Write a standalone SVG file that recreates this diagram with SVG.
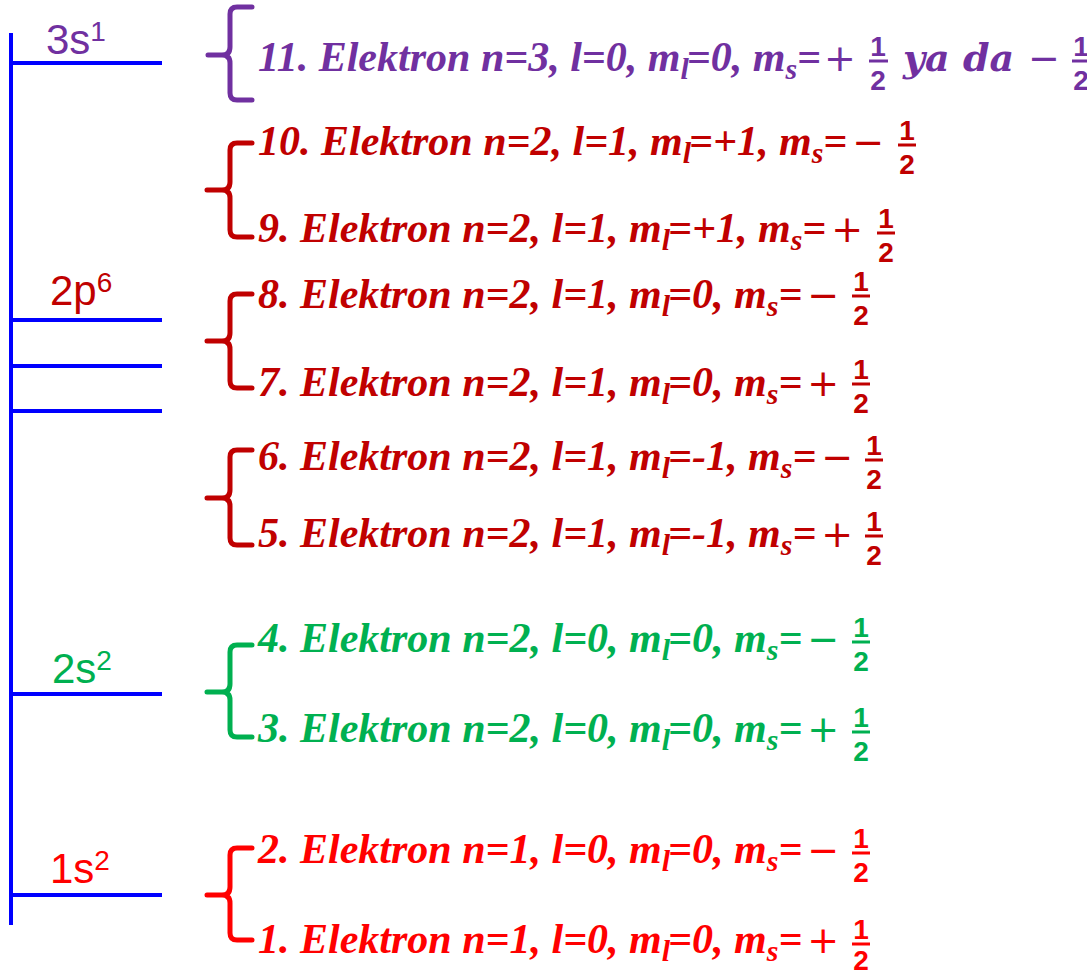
<svg xmlns="http://www.w3.org/2000/svg" width="1087" height="976" viewBox="0 0 1087 976">
<style>
.ax{stroke:#0000FF;stroke-width:4;fill:none}
.br{fill:none;stroke-width:5;stroke-linecap:round;stroke-linejoin:round}
.t{font-family:"Liberation Serif","Times New Roman",serif;font-weight:bold;font-style:italic;font-size:42px}
.sub{font-size:30px}
.op{font-family:"DejaVu Sans",sans-serif;font-style:normal;font-weight:normal;font-size:38px}
.fr{font-family:"Liberation Sans",Arial,sans-serif;font-weight:bold;font-size:28px;text-anchor:middle}
.bar{stroke-width:3}
.lvl{font-family:"Liberation Sans",Arial,sans-serif;font-size:42px}
.sup{font-size:28px}
.math{font-family:"DejaVu Serif",serif;font-weight:bold;font-style:italic;font-size:38px}
</style>

<g id="axis"><line class="ax" x1="11" y1="33" x2="11" y2="925"/></g>

<g id="level-3s">
<line class="ax" x1="11" y1="63" x2="162" y2="63"/>
<text class="lvl" x="46" y="54" fill="#7030A0">3s<tspan class="sup" dy="-13">1</tspan></text>
</g>
<g id="level-2p">
<line class="ax" x1="11" y1="320" x2="162" y2="320"/>
<line class="ax" x1="11" y1="366" x2="162" y2="366"/>
<line class="ax" x1="11" y1="411" x2="162" y2="411"/>
<text class="lvl" x="50" y="305" fill="#C00000">2p<tspan class="sup" dy="-13">6</tspan></text>
</g>
<g id="level-2s">
<line class="ax" x1="11" y1="694" x2="162" y2="694"/>
<text class="lvl" x="52" y="683" fill="#00B050">2s<tspan class="sup" dy="-13">2</tspan></text>
</g>
<g id="level-1s">
<line class="ax" x1="11" y1="895" x2="162" y2="895"/>
<text class="lvl" x="50" y="883" fill="#FF0000">1s<tspan class="sup" dy="-13">2</tspan></text>
</g>

<g id="connectors">
<path class="br" stroke="#7030A0" d="M252 7 H237 Q230 7 230 14 V47 Q230 55 222 55 H208 M222 55 Q230 55 230 63 V93 Q230 100 237 100 H252"/>
<path class="br" stroke="#C00000" d="M252 143 H237 Q230 143 230 150 V182 Q230 190 222 190 H207 M222 190 Q230 190 230 198 V230 Q230 237 237 237 H252"/>
<path class="br" stroke="#C00000" d="M252 294 H237 Q230 294 230 301 V333 Q230 341 222 341 H207 M222 341 Q230 341 230 349 V381 Q230 388 237 388 H252"/>
<path class="br" stroke="#C00000" d="M252 450 H237 Q230 450 230 457 V490 Q230 498 222 498 H207 M222 498 Q230 498 230 506 V538 Q230 545 237 545 H252"/>
<path class="br" stroke="#00B050" d="M252 645 H237 Q230 645 230 652 V684 Q230 692 222 692 H207 M222 692 Q230 692 230 700 V730 Q230 737 237 737 H252"/>
<path class="br" stroke="#FF0000" d="M252 848 H237 Q230 848 230 855 V887 Q230 895 222 895 H207 M222 895 Q230 895 230 903 V933 Q230 940 237 940 H252"/>
</g>

<g id="electron-11" fill="#7030A0">
<text class="t" x="258" y="71">11. Elektron n=3, l=0, m<tspan class="sub" dy="8">l</tspan><tspan dy="-8" dx="-2">=0, m</tspan><tspan class="sub" dy="8">s</tspan><tspan dy="-8">=</tspan><tspan class="op" dx="3">+</tspan></text>
<text class="fr" x="878" y="56">1</text><line class="bar" stroke="#7030A0" x1="869" y1="61" x2="888" y2="61"/><text class="fr" x="878" y="90">2</text>
<text class="math" x="903" y="71">ya da</text>
<text class="op" x="1028" y="71">−</text>
<text class="fr" x="1081" y="56">1</text><line class="bar" stroke="#7030A0" x1="1072" y1="61" x2="1091" y2="61"/><text class="fr" x="1081" y="90">2</text>
</g>

<g id="electron-10" fill="#C00000">
<text class="t" x="258" y="155">10. Elektron n=2, l=1, m<tspan class="sub" dy="8">l</tspan><tspan dy="-8" dx="-2">=+1, m</tspan><tspan class="sub" dy="8">s</tspan><tspan dy="-8">=</tspan><tspan class="op" dx="5">−</tspan></text>
<text class="fr" x="907" y="140">1</text><line class="bar" stroke="#C00000" x1="898" y1="145" x2="916" y2="145"/><text class="fr" x="907" y="174">2</text>
</g>
<g id="electron-9" fill="#C00000">
<text class="t" x="258" y="242">9. Elektron n=2, l=1, m<tspan class="sub" dy="8">l</tspan><tspan dy="-8" dx="-2">=+1, m</tspan><tspan class="sub" dy="8">s</tspan><tspan dy="-8">=</tspan><tspan class="op" dx="5">+</tspan></text>
<text class="fr" x="886" y="228">1</text><line class="bar" stroke="#C00000" x1="877" y1="233" x2="895" y2="233"/><text class="fr" x="886" y="262">2</text>
</g>
<g id="electron-8" fill="#C00000">
<text class="t" x="258" y="308">8. Elektron n=2, l=1, m<tspan class="sub" dy="8">l</tspan><tspan dy="-8" dx="-2">=0, m</tspan><tspan class="sub" dy="8">s</tspan><tspan dy="-8">=</tspan><tspan class="op" dx="5">−</tspan></text>
<text class="fr" x="861" y="291">1</text><line class="bar" stroke="#C00000" x1="852" y1="296" x2="870" y2="296"/><text class="fr" x="861" y="325">2</text>
</g>
<g id="electron-7" fill="#C00000">
<text class="t" x="258" y="396">7. Elektron n=2, l=1, m<tspan class="sub" dy="8">l</tspan><tspan dy="-8" dx="-2">=0, m</tspan><tspan class="sub" dy="8">s</tspan><tspan dy="-8">=</tspan><tspan class="op" dx="5">+</tspan></text>
<text class="fr" x="861" y="379">1</text><line class="bar" stroke="#C00000" x1="852" y1="384" x2="870" y2="384"/><text class="fr" x="861" y="413">2</text>
</g>
<g id="electron-6" fill="#C00000">
<text class="t" x="258" y="470">6. Elektron n=2, l=1, m<tspan class="sub" dy="8">l</tspan><tspan dy="-8" dx="-2">=-1, m</tspan><tspan class="sub" dy="8">s</tspan><tspan dy="-8">=</tspan><tspan class="op" dx="5">−</tspan></text>
<text class="fr" x="874" y="455">1</text><line class="bar" stroke="#C00000" x1="865" y1="460" x2="883" y2="460"/><text class="fr" x="874" y="489">2</text>
</g>
<g id="electron-5" fill="#C00000">
<text class="t" x="258" y="547">5. Elektron n=2, l=1, m<tspan class="sub" dy="8">l</tspan><tspan dy="-8" dx="-2">=-1, m</tspan><tspan class="sub" dy="8">s</tspan><tspan dy="-8">=</tspan><tspan class="op" dx="5">+</tspan></text>
<text class="fr" x="874" y="531">1</text><line class="bar" stroke="#C00000" x1="865" y1="536" x2="883" y2="536"/><text class="fr" x="874" y="565">2</text>
</g>
<g id="electron-4" fill="#00B050">
<text class="t" x="258" y="652">4. Elektron n=2, l=0, m<tspan class="sub" dy="8">l</tspan><tspan dy="-8" dx="-2">=0, m</tspan><tspan class="sub" dy="8">s</tspan><tspan dy="-8">=</tspan><tspan class="op" dx="5">−</tspan></text>
<text class="fr" x="861" y="637">1</text><line class="bar" stroke="#00B050" x1="852" y1="642" x2="870" y2="642"/><text class="fr" x="861" y="671">2</text>
</g>
<g id="electron-3" fill="#00B050">
<text class="t" x="258" y="742">3. Elektron n=2, l=0, m<tspan class="sub" dy="8">l</tspan><tspan dy="-8" dx="-2">=0, m</tspan><tspan class="sub" dy="8">s</tspan><tspan dy="-8">=</tspan><tspan class="op" dx="5">+</tspan></text>
<text class="fr" x="861" y="727">1</text><line class="bar" stroke="#00B050" x1="852" y1="732" x2="870" y2="732"/><text class="fr" x="861" y="761">2</text>
</g>
<g id="electron-2" fill="#FF0000">
<text class="t" x="258" y="863">2. Elektron n=1, l=0, m<tspan class="sub" dy="8">l</tspan><tspan dy="-8" dx="-2">=0, m</tspan><tspan class="sub" dy="8">s</tspan><tspan dy="-8">=</tspan><tspan class="op" dx="5">−</tspan></text>
<text class="fr" x="861" y="848">1</text><line class="bar" stroke="#FF0000" x1="852" y1="853" x2="870" y2="853"/><text class="fr" x="861" y="882">2</text>
</g>
<g id="electron-1" fill="#FF0000">
<text class="t" x="258" y="953">1. Elektron n=1, l=0, m<tspan class="sub" dy="8">l</tspan><tspan dy="-8" dx="-2">=0, m</tspan><tspan class="sub" dy="8">s</tspan><tspan dy="-8">=</tspan><tspan class="op" dx="5">+</tspan></text>
<text class="fr" x="861" y="939">1</text><line class="bar" stroke="#FF0000" x1="852" y1="944" x2="870" y2="944"/><text class="fr" x="861" y="970">2</text>
</g>
</svg>
